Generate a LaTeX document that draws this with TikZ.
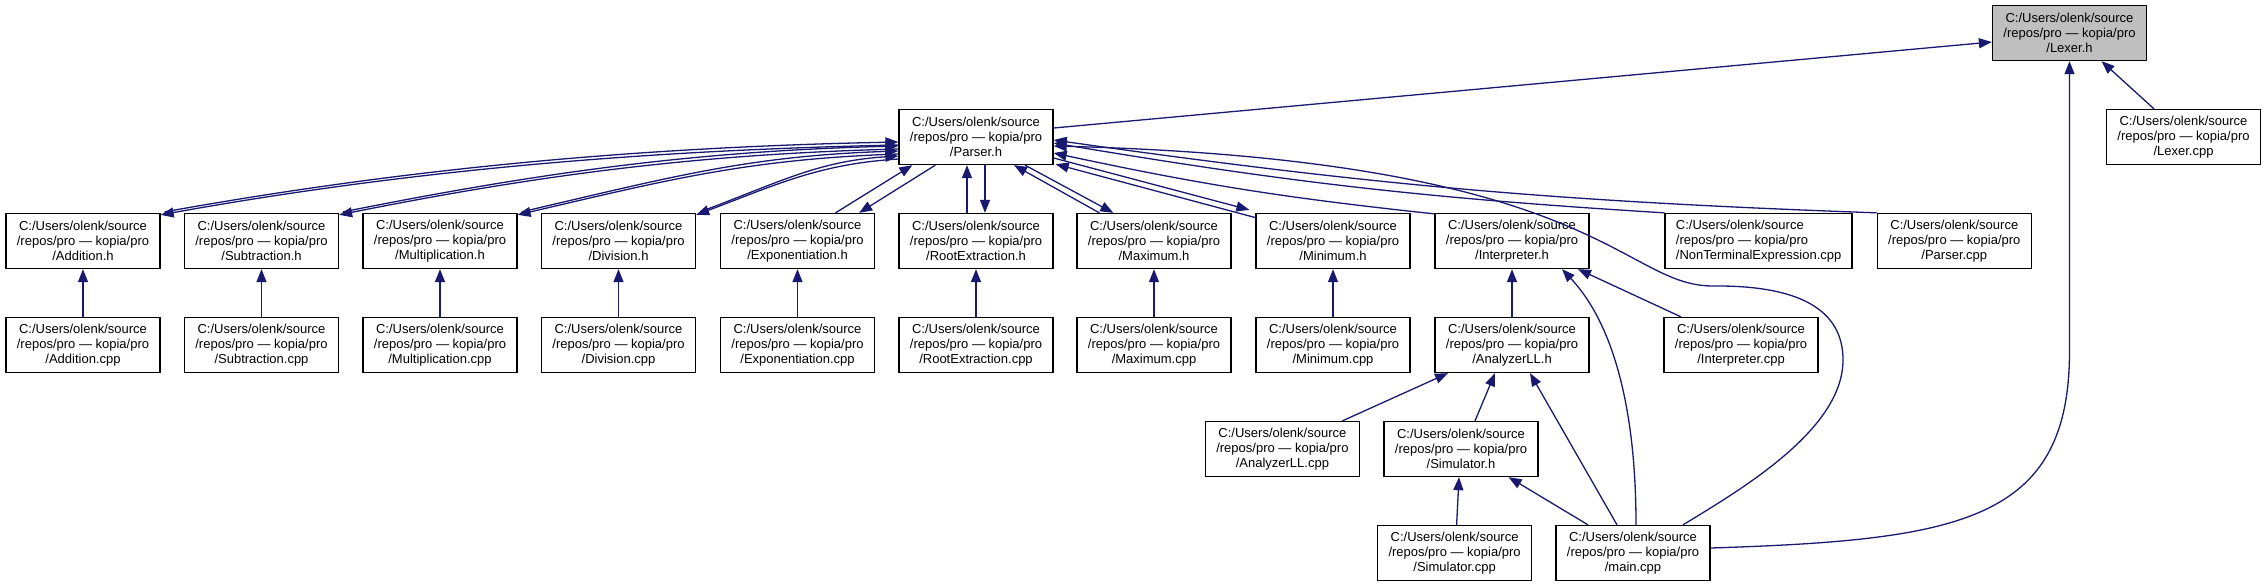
\documentclass[tikz,border=0pt]{standalone}
\usepackage{fontspec}
\setmainfont{Liberation Sans}
\usetikzlibrary{arrows.meta,calc}

\definecolor{edgeblue}{HTML}{191970}
\definecolor{lexgray}{HTML}{BFBFBF}

\newcommand{\fpath}[1]{C:/Users/olenk/source\\/repos/pro — kopia/pro\\/#1}

\begin{document}
\begin{tikzpicture}[
    x=1pt, y=-1pt,
    filebox/.style={draw=black, line width=1.3pt, fill=white,
        minimum width=154pt, minimum height=55pt, inner sep=0pt,
        align=center, font=\fontsize{13}{15}\selectfont},
    incl/.style={draw=edgeblue, line width=1.3pt,
        -{Triangle[length=13pt,width=10pt]}}
]
\useasboundingbox (0,0) rectangle (2267,587);

% Top files
\node[filebox, fill=lexgray] (lex) at (2069.5,33) {\fpath{Lexer.h}};
\node[filebox] (lexcpp) at (2183.5,137) {\fpath{Lexer.cpp}};
\node[filebox] (par) at (976,137) {\fpath{Parser.h}};

% Second row
\foreach \n/\x/\f in {addh/83/Addition.h, subh/261.5/Subtraction.h,
    mulh/440/Multiplication.h, divh/618.5/Division.h,
    exph/797.5/Exponentiation.h, rooth/976/RootExtraction.h,
    maxh/1154/Maximum.h, minh/1333/Minimum.h,
    inth/1512/Interpreter.h, parcpp/1954.3/Parser.cpp}
    \node[filebox] (\n) at (\x,241) {\fpath{\f}};
\node[filebox, minimum width=187pt, align=left] (nte) at (1758.6,241)
    {\fpath{NonTerminalExpression.cpp}};

% Third row
\foreach \n/\x/\f in {addc/83/Addition.cpp, subc/261.5/Subtraction.cpp,
    mulc/440/Multiplication.cpp, divc/618.5/Division.cpp,
    expc/797.5/Exponentiation.cpp, rootc/976/RootExtraction.cpp,
    maxc/1154/Maximum.cpp, minc/1333/Minimum.cpp,
    anah/1512/AnalyzerLL.h, intc/1741/Interpreter.cpp}
    \node[filebox] (\n) at (\x,345) {\fpath{\f}};

% Lower rows
\node[filebox] (anac) at (1282.4,449) {\fpath{AnalyzerLL.cpp}};
\node[filebox] (simh) at (1461,449) {\fpath{Simulator.h}};
\node[filebox] (simc) at (1454.6,553) {\fpath{Simulator.cpp}};
\node[filebox] (mainc) at (1633,553) {\fpath{main.cpp}};

% Lexer.h
\draw[incl] ($(par.east)+(0,-9)$) -- ($(lex.west)+(0,9)$);
\draw[incl] ($(lexcpp.north)+(-29.5,0)$) -- ($(lex.south)+(32,0)$);
\draw[incl] ($(mainc.east)+(0,-5)$) .. controls +(250,-8) and +(0,170)
    .. ($(lex.south)+(0,290)$) -- (lex.south);

% Parser.h and the headers on its left
\foreach \n/\c/\h/\d in {addh/250/45/5, subh/200/40/9,
    mulh/150/35/14, divh/80/30/19} {
    \draw[incl] ($(\n.north east)+(4,-1)$) .. controls +(\c,-\h) and +(-\c,5)
        .. ($(par.west)+(0,\d)$);
    \draw[incl] ($(par.west)+(0,\d+3)$) .. controls +(-\c,5) and +(\c,-\h)
        .. ($(\n.north east)+(0,2)$);
}
\draw[incl] ($(exph.north)+(38,0)$) -- ($(par.south west)+(14,0)$);
\draw[incl] ($(par.south west)+(37,0)$) -- ($(exph.north east)+(-16,0)$);
\draw[incl] ($(rooth.north)+(-9,0)$) -- ($(par.south)+(-9,0)$);
\draw[incl] ($(par.south)+(9,0)$) -- ($(rooth.north)+(9,0)$);
\draw[incl] ($(maxh.north west)+(23,0)$) -- ($(par.south)+(38,0)$);
\draw[incl] ($(par.south)+(49,0)$) -- ($(maxh.north west)+(37,0)$);
\draw[incl] ($(minh.north west)+(1,5)$) -- ($(par.south east)+(2,-1)$);
\draw[incl] ($(par.east)+(0,21)$) -- ($(minh.north west)+(-6,-3)$);

% Parser.h and the files on its right
\draw[incl] ($(inth.north west)+(0,1)$) to[bend left=3] ($(par.east)+(0,16)$);
\draw[incl] (nte.north west) to[bend left=3] ($(par.east)+(0,6)$);
\draw[incl] (parcpp.north west) to[bend left=3] ($(par.east)+(0,3)$);
\draw[incl] ($(mainc.north)+(50,0)$) .. controls (1740,490) and (1843,430)
    .. (1843,360) .. controls (1843,310) and (1800,285) .. (1712,286)
    .. controls (1620,285) and (1600,160) .. ($(par.east)+(0,9)$);

% Sources below their headers
\foreach \c/\h in {addc/addh, subc/subh, mulc/mulh, divc/divh,
    expc/exph, rootc/rooth, maxc/maxh, minc/minh, anah/inth}
    \draw[incl] (\c.north) -- (\h.south);

% Interpreter.h, AnalyzerLL.h and Simulator.h
\draw[incl] ($(intc.north)+(-60,0)$) -- ($(inth.south)+(66,0)$);
\draw[incl] ($(mainc.north)+(3,0)$) .. controls (1636,400) and (1610,320)
    .. ($(inth.south)+(50,0)$);
\draw[incl] ($(anac.north)+(60,0)$) -- ($(anah.south)+(-64,0)$);
\draw[incl] ($(simh.north)+(14,0)$) -- ($(anah.south)+(-17,0)$);
\draw[incl] ($(mainc.north)+(-16,0)$) -- ($(anah.south)+(18,0)$);
\draw[incl] ($(simc.north)+(2,0)$) -- ($(simh.south)+(-2,0)$);
\draw[incl] ($(mainc.north)+(-45,0)$) -- ($(simh.south east)+(-30,0)$);
\end{tikzpicture}
\end{document}
